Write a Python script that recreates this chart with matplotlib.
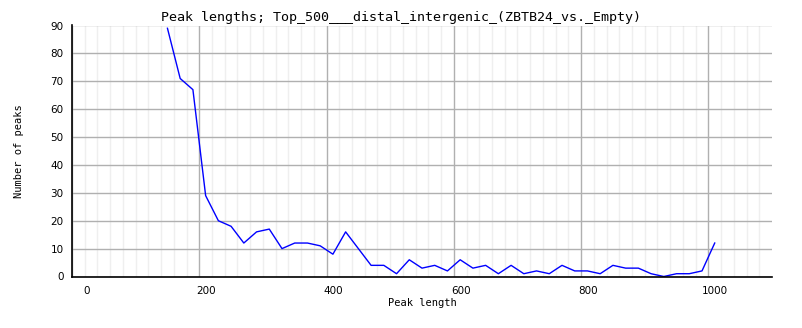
import matplotlib
matplotlib.use("Agg")
import matplotlib.pyplot as plt
import matplotlib.transforms as mtransforms
import numpy as np

# peak length bins (centres) and number of peaks
lengths = [150, 170, 190, 210, 230, 250, 270, 290, 310, 330,
           350, 370, 390, 410, 430, 450, 470, 490, 510, 530,
           550, 570, 590, 610, 630, 650, 670, 690, 710, 730,
           750, 770, 790, 810, 830, 850, 870, 890, 910, 930,
           950, 970, 990, 1010]
counts = [89, 71, 67, 29, 20, 18, 12, 16, 17, 10,
          12, 12, 11, 8, 16, 10, 4, 4, 1, 6,
          3, 4, 2, 6, 3, 4, 1, 4, 1, 2,
          1, 4, 2, 2, 1, 4, 3, 3, 1, 0,
          1, 1, 2, 12]
xticks = [0, 200, 400, 600, 800, 1000]
yticks = [0, 10, 20, 30, 40, 50, 60, 70, 80, 90]

title = "Peak lengths; Top_500___distal_intergenic_(ZBTB24_vs._Empty)"

fig = plt.figure(figsize=(8.02, 3.28), dpi=100)
ax = fig.add_axes([72/802, 51.5/328, 700/802, 251/328])

ax.plot(lengths, counts, color="#0000ff", lw=1.0, zorder=3)

ax.set_xlim(0, 1100)
ax.set_ylim(0, 90)
ax.set_xticks(xticks)
ax.set_xticks(np.arange(0, 1100, 20), minor=True)
ax.set_yticks(yticks)
ax.grid(which="major", color="#b0b0b0", lw=1.0, zorder=1)
ax.grid(which="minor", axis="x", color="#efefef", lw=1.0, zorder=0)
ax.tick_params(which="both", length=0, labelsize=7.5)
ax.tick_params(axis="x", pad=7)
ax.tick_params(axis="y", pad=6)

# labels sit a bit right of their grid line (the "0" even more)
for i, lab in enumerate(ax.get_xticklabels()):
    dx = 15 if i == 0 else 7
    off = mtransforms.ScaledTranslation(dx/100, 0, fig.dpi_scale_trans)
    lab.set_transform(lab.get_transform() + off)

for s in ["top", "right"]:
    ax.spines[s].set_visible(False)
for s in ["left", "bottom"]:
    ax.spines[s].set_color("black")
    ax.spines[s].set_linewidth(1.2)
    ax.spines[s].set_zorder(4)

ax.set_xlabel("Peak length", fontfamily="DejaVu Sans Mono", fontsize=7.5, labelpad=1)
ax.set_ylabel("Number of peaks", fontfamily="DejaVu Sans Mono", fontsize=7.5, labelpad=19)
fig.text(0.5, 1 - 17/328, title, ha="center", va="center",
         fontfamily="DejaVu Sans Mono", fontsize=9.6)

fig.savefig("out.png", dpi=100)
